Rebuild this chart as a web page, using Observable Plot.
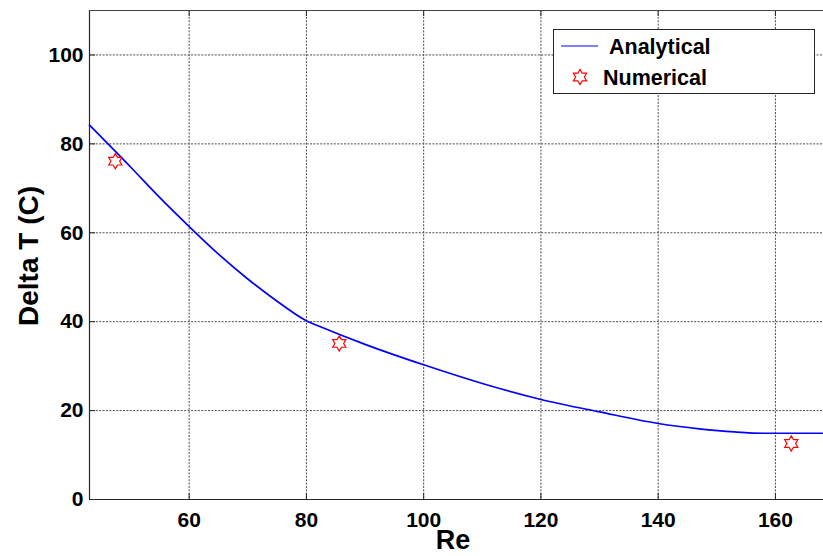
<!DOCTYPE html>
<html>
<head>
<meta charset="utf-8">
<script src="https://cdn.jsdelivr.net/npm/d3@7"></script>
<script src="https://cdn.jsdelivr.net/npm/@observablehq/plot@0.6"></script>
<style>
  html, body { margin: 0; padding: 0; background: #fff; }
  #chart { width: 823px; height: 556px; }
</style>
</head>
<body>
<div id="chart"></div>
<script>
// Analytical temperature rise vs Reynolds number
const reAnalytical = [43, 50, 55, 60, 65, 70, 75, 80, 82.5, 90, 100, 110, 120, 130, 140, 147, 153, 158, 168];
const dtAnalytical = [84.2, 74.8, 67.9, 61.4, 55.2, 49.6, 44.6, 40.2, 38.8, 34.9, 30.3, 26.1, 22.5, 19.7, 17.1, 15.9, 15.2, 14.9, 14.9];

// Numerical results
const reNumerical = [47.4, 85.6, 162.7];
const dtNumerical = [76.1, 35.1, 12.6];

// Axes
const xDomain = [43, 168.2];
const yDomain = [0, 110];
const xTicks = [60, 80, 100, 120, 140, 160];
const yTicks = [0, 20, 40, 60, 80, 100];

const analytical = reAnalytical.map((re, i) => ({re, dt: dtAnalytical[i]}));
const numerical = reNumerical.map((re, i) => ({re, dt: dtNumerical[i]}));

const W = 823, H = 556;
const margin = {top: 10, right: 0, bottom: 57, left: 89};
const innerW = W - margin.left - margin.right;
const innerH = H - margin.top - margin.bottom;

// Six-pointed star outline (hexagram)
const hexagram = {
  draw(context, size) {
    const R = Math.sqrt(size / Math.PI);
    const r = R / Math.sqrt(3);
    for (let k = 0; k < 12; ++k) {
      const rad = k % 2 === 0 ? R : r;
      const a = -Math.PI / 2 + k * Math.PI / 6;
      const px = rad * Math.cos(a), py = rad * Math.sin(a);
      if (k === 0) context.moveTo(px, py); else context.lineTo(px, py);
    }
    context.closePath();
  }
};

const axisColor = "#262626";
const gridColor = "#4a4a4a";
const dash = "2,1.4";

const plot = Plot.plot({
  width: W,
  height: H,
  marginTop: margin.top,
  marginRight: margin.right,
  marginBottom: margin.bottom,
  marginLeft: margin.left,
  style: {fontFamily: "'Liberation Sans', Arial, sans-serif", fontSize: "21px", fontWeight: "bold", color: "#000", background: "#fff", overflow: "visible"},
  x: {domain: xDomain, axis: null},
  y: {domain: yDomain, axis: null},
  marks: [
    // dotted grid
    Plot.ruleX(xTicks, {stroke: gridColor, strokeDasharray: dash, strokeWidth: 1}),
    Plot.ruleY(yTicks.filter(d => d > 0), {stroke: gridColor, strokeDasharray: dash, strokeWidth: 1}),
    // inner tick marks
    Plot.tickY(yTicks, {y: d => d, stroke: axisColor, insetRight: innerW - 6}),
    Plot.tickX(xTicks, {x: d => d, stroke: axisColor, insetTop: innerH - 6}),
    Plot.tickX(xTicks, {x: d => d, stroke: axisColor, insetBottom: innerH - 6}),
    // box edges
    Plot.ruleX([xDomain[0]], {stroke: axisColor, strokeWidth: 1.2}),
    Plot.ruleY([yDomain[0]], {stroke: axisColor, strokeWidth: 1.2}),
    Plot.ruleY([yDomain[1]], {stroke: "#444", strokeWidth: 1.2}),
    // tick labels
    Plot.axisY(yTicks, {tickSize: 0, tickPadding: 6, fontSize: 21, fontWeight: "bold", label: null}),
    Plot.axisX(xTicks, {tickSize: 0, tickPadding: 13, fontSize: 21, fontWeight: "bold", label: null}),
    // data
    Plot.line(analytical, {x: "re", y: "dt", stroke: "#0000ff", strokeWidth: 1.7, curve: "monotone-x"}),
    Plot.dot(numerical, {x: "re", y: "dt", symbol: hexagram, r: 7.6, stroke: "#ff0000", strokeWidth: 1.2, fill: "none"})
  ]
});

const svg = d3.select(plot);

// axis titles
svg.append("text")
  .attr("x", 453).attr("y", 549)
  .attr("text-anchor", "middle")
  .style("font-size", "27px").style("font-weight", "bold")
  .attr("fill", "#000")
  .text("Re");

svg.append("text")
  .attr("transform", "translate(38,256) rotate(-90)")
  .attr("text-anchor", "middle")
  .style("font-size", "28px").style("font-weight", "bold")
  .attr("fill", "#000")
  .text("Delta T (C)");

// legend
const lg = svg.append("g").attr("text-anchor", "start");
lg.append("rect")
  .attr("x", 553.5).attr("y", 29.5).attr("width", 261).attr("height", 64)
  .attr("fill", "#fff").attr("stroke", axisColor).attr("stroke-width", 1);
lg.append("line")
  .attr("x1", 561).attr("x2", 598).attr("y1", 46).attr("y2", 46)
  .attr("stroke", "#0000ff").attr("stroke-width", 1.2);
lg.append("text")
  .attr("x", 609).attr("y", 53.5)
  .attr("text-anchor", "start")
  .style("font-size", "21.5px").style("font-weight", "bold")
  .attr("fill", "#000")
  .text("Analytical");
lg.append("path")
  .attr("transform", "translate(580,77)")
  .attr("d", d3.symbol(hexagram, Math.PI * 7.6 * 7.6)())
  .attr("fill", "none").attr("stroke", "#ff0000").attr("stroke-width", 1.2);
lg.append("text")
  .attr("x", 603).attr("y", 84.5)
  .attr("text-anchor", "start")
  .style("font-size", "21.5px").style("font-weight", "bold")
  .attr("fill", "#000")
  .text("Numerical");

document.getElementById("chart").appendChild(plot);
</script>
</body>
</html>
